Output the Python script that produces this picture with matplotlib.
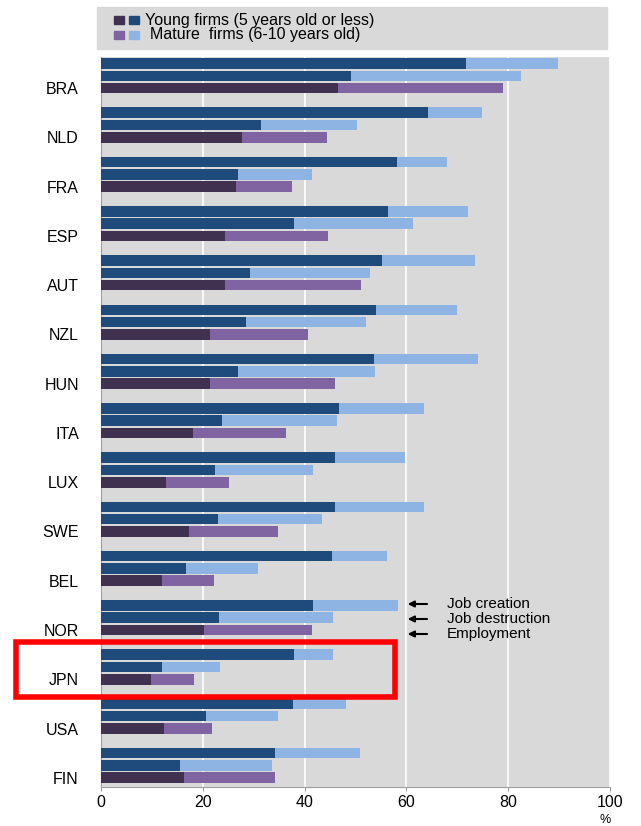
import matplotlib.pyplot as plt
from matplotlib.patches import Rectangle
from matplotlib.transforms import blended_transform_factory

countries = ["BRA", "NLD", "FRA", "ESP", "AUT", "NZL", "HUN", "ITA",
             "LUX", "SWE", "BEL", "NOR", "JPN", "USA", "FIN"]

# share attributable to young firms, and young + mature total (%)
creation_young = [71.7, 64.2, 58.2, 56.4, 55.2, 54.0, 53.6, 46.8, 46.0, 46.0, 45.4, 41.7, 38.0, 37.7, 34.2]
creation_total = [89.8, 74.9, 68.0, 72.1, 73.5, 69.9, 74.1, 63.5, 59.7, 63.5, 56.2, 58.3, 45.6, 48.1, 50.9]
destruction_young = [49.1, 31.4, 26.9, 37.9, 29.3, 28.5, 26.9, 23.8, 22.4, 23.0, 16.7, 23.2, 12.0, 20.6, 15.5]
destruction_total = [82.5, 50.3, 41.5, 61.3, 52.8, 52.1, 53.8, 46.4, 41.7, 43.4, 30.8, 45.6, 23.4, 34.8, 33.6]
employment_young = [46.6, 27.7, 26.5, 24.4, 24.4, 21.4, 21.4, 18.1, 12.8, 17.3, 12.0, 20.2, 9.8, 12.4, 16.3]
employment_total = [79.0, 44.4, 37.5, 44.6, 51.1, 40.7, 46.0, 36.3, 25.1, 34.8, 22.2, 41.5, 18.3, 21.9, 34.2]

arrow_labels = ["Job creation", "Job destruction", "Employment"]

DARK_BLUE = "#1f4a7c"
LIGHT_BLUE = "#8db4e2"
DARK_PURPLE = "#403151"
LIGHT_PURPLE = "#8064a2"
BG = "#d9d9d9"

plt.rcParams["font.family"] = ["Liberation Sans", "DejaVu Sans"]

W, H = 641, 826
fig = plt.figure(figsize=(W / 100, H / 100), dpi=100)
ax = fig.add_axes([101 / W, 1 - 787 / H, 509 / W, 730 / H])
ax.set_facecolor(BG)

h = 0.86
series = [
    (creation_young, creation_total, DARK_BLUE, LIGHT_BLUE),
    (destruction_young, destruction_total, DARK_BLUE, LIGHT_BLUE),
    (employment_young, employment_total, DARK_PURPLE, LIGHT_PURPLE),
]
for j, (young, total, c_dark, c_light) in enumerate(series):
    ys = [-(4 * i + j) for i in range(len(countries))]
    mature = [t - y for t, y in zip(total, young)]
    ax.barh(ys, young, height=h, color=c_dark, zorder=3)
    ax.barh(ys, mature, left=young, height=h, color=c_light, zorder=3)

ax.set_xlim(0, 100)
ax.set_ylim(-58.75, 0.53)
ax.set_xticks([0, 20, 40, 60, 80, 100])
ax.set_yticks([-(4 * i + 2) for i in range(len(countries))])
ax.set_yticklabels(countries, fontsize=11.5)
ax.tick_params(axis="y", length=0, pad=16)
ax.tick_params(axis="x", labelsize=11.5, length=3, color="#999999", pad=3)
ax.grid(axis="x", color="white", linewidth=1.2, zorder=1)
for side in ["top", "right"]:
    ax.spines[side].set_visible(False)
for side in ["left", "bottom"]:
    ax.spines[side].set_color("#a0a0a0")

# x in data units, y in figure fraction
trans = blended_transform_factory(ax.transData, fig.transFigure)

# unit label tucked under the right end of the axis
ax.text(99, 1 - 814 / H, "%", transform=trans, ha="center", va="top",
        fontsize=9, clip_on=False)

# arrows pointing at the three bars of one country
for k, label in enumerate(arrow_labels):
    y = 1 - (604 + 15 * k) / H
    ax.annotate("", xy=(59.7, y), xytext=(64.6, y), xycoords=trans, textcoords=trans,
                arrowprops=dict(arrowstyle="-|>", color="black", lw=1.5,
                                mutation_scale=9), zorder=4)
    ax.text(68, y, label, transform=trans, fontsize=11, va="center", ha="left", zorder=4)

# legend panel
fig.patches.append(Rectangle((97 / W, 1 - 49 / H), 510 / W, 42 / H,
                             transform=fig.transFigure, color=BG, zorder=0))
sq_w, sq_h = 10 / W, 8 / H
rows = [(20, DARK_PURPLE, DARK_BLUE, "Young firms (5 years old or less)", 145),
        (35, LIGHT_PURPLE, LIGHT_BLUE, "Mature  firms (6-10 years old)", 150)]
for py, c1, c2, text, tx in rows:
    yy = 1 - (py + 4) / H
    fig.patches.append(Rectangle((114 / W, yy), sq_w, sq_h, transform=fig.transFigure, color=c1))
    fig.patches.append(Rectangle((129 / W, yy), sq_w, sq_h, transform=fig.transFigure, color=c2))
    fig.text(tx / W, 1 - py / H, text, fontsize=11.5, va="center", ha="left")

# highlight box around Japan
fig.patches.append(Rectangle((16 / W, 1 - 697 / H), 379 / W, 55 / H,
                             transform=fig.transFigure, fill=False,
                             edgecolor="#ff0000", linewidth=4, zorder=10))

fig.savefig("out.png", dpi=100)
